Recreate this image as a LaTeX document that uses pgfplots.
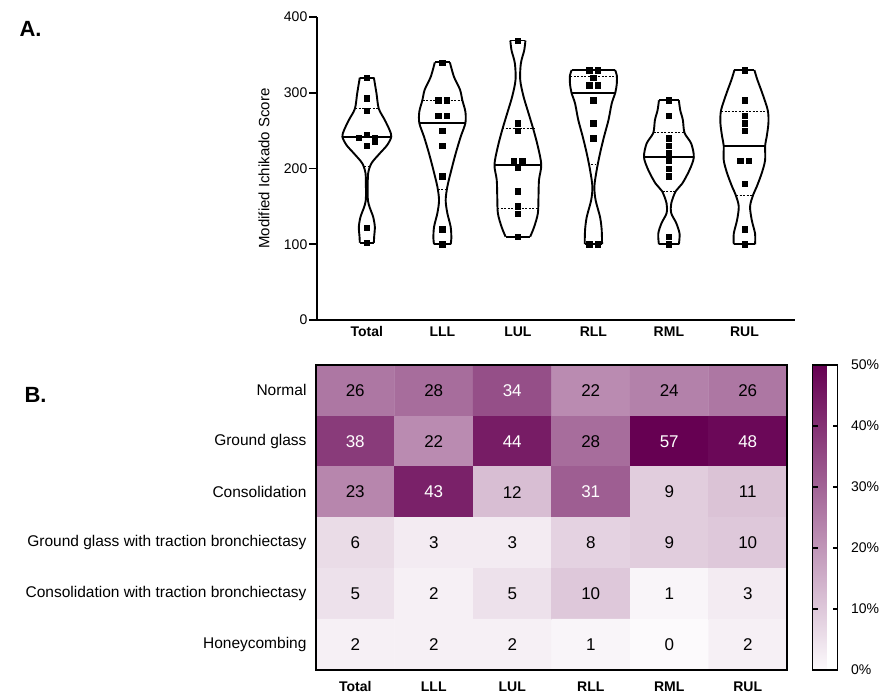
\documentclass[border=0pt]{standalone}
\usepackage{pgfplots}
\pgfplotsset{compat=1.18}
\usepackage{pgfplotstable}
\usepackage{fontspec}
\setmainfont{Liberation Sans}
\pgfplotsset{/pgf/number format/assume math mode=true}

% violin outlines: y and half-width (category units)
\pgfplotstableread{
y w
320 0.093
299 0.128
279 0.158
264 0.238
251 0.300
242 0.324
231 0.270
220 0.172
207 0.062
194 0.018
176 0.012
158 0.014
148 0.040
136 0.084
123 0.106
110 0.097
102 0.093
}\vA
\pgfplotstableread{
y w
340 0.100
321 0.154
304 0.234
290 0.265
275 0.305
260 0.305
242 0.243
220 0.177
198 0.119
176 0.066
158 0.044
141 0.066
123 0.110
108 0.119
100 0.110
}\vB
\pgfplotstableread{
y w
369 0.100
356 0.084
339 0.040
317 0.031
295 0.075
273 0.141
251 0.207
229 0.265
205 0.310
185 0.280
163 0.273
141 0.265
123 0.216
110 0.163
}\vC
\pgfplotstableread{
y w
330 0.287
323 0.310
312 0.310
300 0.290
286 0.243
264 0.200
242 0.141
220 0.088
198 0.044
176 0.013
158 0.030
136 0.088
119 0.110
100 0.115
}\vD
\pgfplotstableread{
y w
290 0.132
277 0.150
264 0.185
247 0.207
233 0.295
215 0.330
198 0.273
180 0.176
170 0.090
154 0.031
141 0.031
128 0.097
114 0.141
100 0.132
}\vE
\pgfplotstableread{
y w
330 0.132
317 0.172
299 0.238
277 0.309
260 0.318
242 0.295
230 0.274
211 0.274
194 0.230
176 0.163
165 0.115
150 0.075
132 0.097
114 0.141
100 0.141
}\vF

% individual scores (x = category + jitter)
\pgfplotstableread{
x y
0 320
0 293
0 276
0 245
-0.106 241
0.106 241
0.106 235
0 230
0 122
0 102
1 340
0.945 290
1.055 290
0.945 270
1.055 270
1 250
1 230
1 190
1 120
1 100
2 369
2 260
2 250
1.945 210
2.055 210
2 201
2 170
2 150
2 140
2 110
2.945 330
3.055 330
3 320
2.945 310
3.055 310
3 290
3 260
3 240
2.945 100
3.055 100
4 290
4 270
4 240
4 230
4 220
4 210
4 200
4 190
4 110
4 100
5 330
5 290
5 270
5 260
5 250
4.945 210
5.055 210
5 180
5 120
5 100
}\pts

% heat map: column, row, value
\pgfplotstableread{
c r v
0 0 26
1 0 28
2 0 34
3 0 22
4 0 24
5 0 26
0 1 38
1 1 22
2 1 44
3 1 28
4 1 57
5 1 48
0 2 23
1 2 43
2 2 12
3 2 31
4 2 9
5 2 11
0 3 6
1 3 3
2 3 3
3 3 8
4 3 9
5 3 10
0 4 5
1 4 2
2 4 5
3 4 10
4 4 1
5 4 3
0 5 2
1 5 2
2 5 2
3 5 1
4 5 0
5 5 2
}\heat

\newcommand{\violin}[2]{%
  \addplot[vio] table[x expr={#1+\thisrow{w}}, y=y] {#2};
  \addplot[vio] table[x expr={#1-\thisrow{w}}, y=y] {#2};
}

\begin{document}
\begin{tikzpicture}
\useasboundingbox (0pt,0pt) rectangle (883pt,699pt);
\node[anchor=base west, font=\fontsize{22}{24}\selectfont\bfseries] at (16pt,662pt) {A.};
\node[anchor=base west, font=\fontsize{22}{24}\selectfont\bfseries] at (21pt,296pt) {B.};

\begin{axis}[
  at={(317pt,379pt)}, anchor=south west,
  scale only axis, width=478pt, height=303pt,
  xmin=-0.66, xmax=5.67, ymin=0, ymax=400,
  axis x line=bottom, axis y line=left,
  axis line style={-, line width=1.9pt},
  every outer x axis line/.append style={-},
  every outer y axis line/.append style={-},
  xtick={0,...,5}, xticklabels={Total,LLL,LUL,RLL,RML,RUL},
  ytick={0,100,...,400},
  tick align=outside, major tick length=8pt,
  tick style={black, line width=1.9pt},
  xtick style={draw=none},
  xticklabel style={font=\fontsize{14}{16}\selectfont\bfseries, yshift=5pt},
  yticklabel style={font=\fontsize{14}{16}\selectfont, inner xsep=1.5pt},
  ylabel={Modified Ichikado Score},
  every axis y label/.style={at={(axis description cs:-0.111,0.5)}, anchor=center, rotate=90, font=\fontsize{15}{17}\selectfont},
  vio/.style={black, line width=1.9pt, smooth, no markers},
  unbounded coords=jump,
]
\violin{0}{\vA}
\violin{1}{\vB}
\violin{2}{\vC}
\violin{3}{\vD}
\violin{4}{\vE}
\violin{5}{\vF}
% caps of the violins
\addplot[black, line width=1.9pt, no markers] coordinates {
 (-0.093,320) (0.093,320) (0,nan) (-0.093,102) (0.093,102) (0,nan)
 (0.9,340) (1.1,340) (1,nan) (0.89,100) (1.11,100) (1,nan)
 (1.9,369) (2.1,369) (2,nan) (1.837,110) (2.163,110) (2,nan)
 (2.713,330) (3.287,330) (3,nan) (2.885,100) (3.115,100) (3,nan)
 (3.868,290) (4.132,290) (4,nan) (3.868,100) (4.132,100) (4,nan)
 (4.868,330) (5.132,330) (5,nan) (4.859,100) (5.141,100)
};
% medians
\addplot[black, line width=1.8pt, no markers] coordinates {
 (-0.324,242) (0.324,242) (0,nan)
 (0.695,260) (1.305,260) (1,nan)
 (1.69,205) (2.31,205) (2,nan)
 (2.71,300) (3.29,300) (3,nan)
 (3.67,215) (4.33,215) (4,nan)
 (4.726,230) (5.274,230)
};
% quartiles
\addplot[black, line width=0.9pt, dash pattern=on 2pt off 1.5pt, no markers] coordinates {
 (-0.155,279) (0.155,279) (0,nan) (-0.035,203) (0.035,203) (0,nan)
 (0.74,290) (1.26,290) (1,nan) (0.942,172) (1.058,172) (1,nan)
 (1.79,253) (2.21,253) (2,nan) (1.73,147) (2.27,147) (2,nan)
 (2.695,322) (3.305,322) (3,nan) (2.97,205) (3.03,205) (3,nan)
 (3.8,247) (4.2,247) (4,nan) (3.92,170) (4.08,170) (4,nan)
 (4.69,275) (5.31,275) (5,nan) (4.89,165) (5.11,165)
};
\addplot[only marks, mark=square*, mark size=2.7pt, black] table[x=x, y=y] {\pts};
\end{axis}

\begin{axis}[
  at={(316pt,29pt)}, anchor=south west,
  scale only axis, width=471pt, height=305pt,
  xmin=-0.5, xmax=5.5, ymin=-0.5, ymax=5.5, y dir=reverse,
  enlargelimits=false, axis on top,
  axis line style={line width=2.5pt},
  xtick={0,...,5}, xticklabels={Total,LLL,LUL,RLL,RML,RUL},
  ytick={0,...,5},
  yticklabels={Normal,Ground glass,Consolidation,Ground glass with traction bronchiectasy,Consolidation with traction bronchiectasy,Honeycombing},
  major tick length=0pt,
  xticklabel style={font=\fontsize{14}{16}\selectfont\bfseries, yshift=-8pt},
  yticklabel style={font=\fontsize{15.5}{17}\selectfont, xshift=-6pt},
  colormap={purp}{rgb255(0cm)=(252,250,252); rgb255(1cm)=(102,0,82)},
  point meta min=0, point meta max=50,
  colorbar,
  colorbar style={
    at={(parent axis.north east)}, anchor=north west, xshift=17pt,
    width=25pt, axis on top,
    ytick={0,10,...,50},
    yticklabel={\pgfmathprintnumber{\tick}\%},
    yticklabel style={font=\fontsize{14}{16}\selectfont, xshift=10pt},
    tick align=inside, major tick length=5pt,
    tick style={black, line width=1.2pt},
    axis line style={line width=1.3pt},
    yticklabel pos=right, ytick pos=both,
  },
]
\addplot[matrix plot*, mesh/cols=6, point meta={min(\thisrow{v},50)}] table[x=c, y=r] {\heat};
\addplot[draw=none, no markers, point meta=explicit,
  x filter/.expression={\thisrow{v}>30 ? x : nan},
  nodes near coords, nodes near coords align=center,
  every node near coord/.append style={font=\fontsize{17}{19}\selectfont, anchor=center, text=white},
] table[x=c, y=r, meta=v] {\heat};
\addplot[draw=none, no markers, point meta=explicit,
  x filter/.expression={\thisrow{v}>30 ? nan : x},
  nodes near coords, nodes near coords align=center,
  every node near coord/.append style={font=\fontsize{17}{19}\selectfont, anchor=center, text=black},
] table[x=c, y=r, meta=v] {\heat};
\end{axis}
\end{tikzpicture}
\end{document}
